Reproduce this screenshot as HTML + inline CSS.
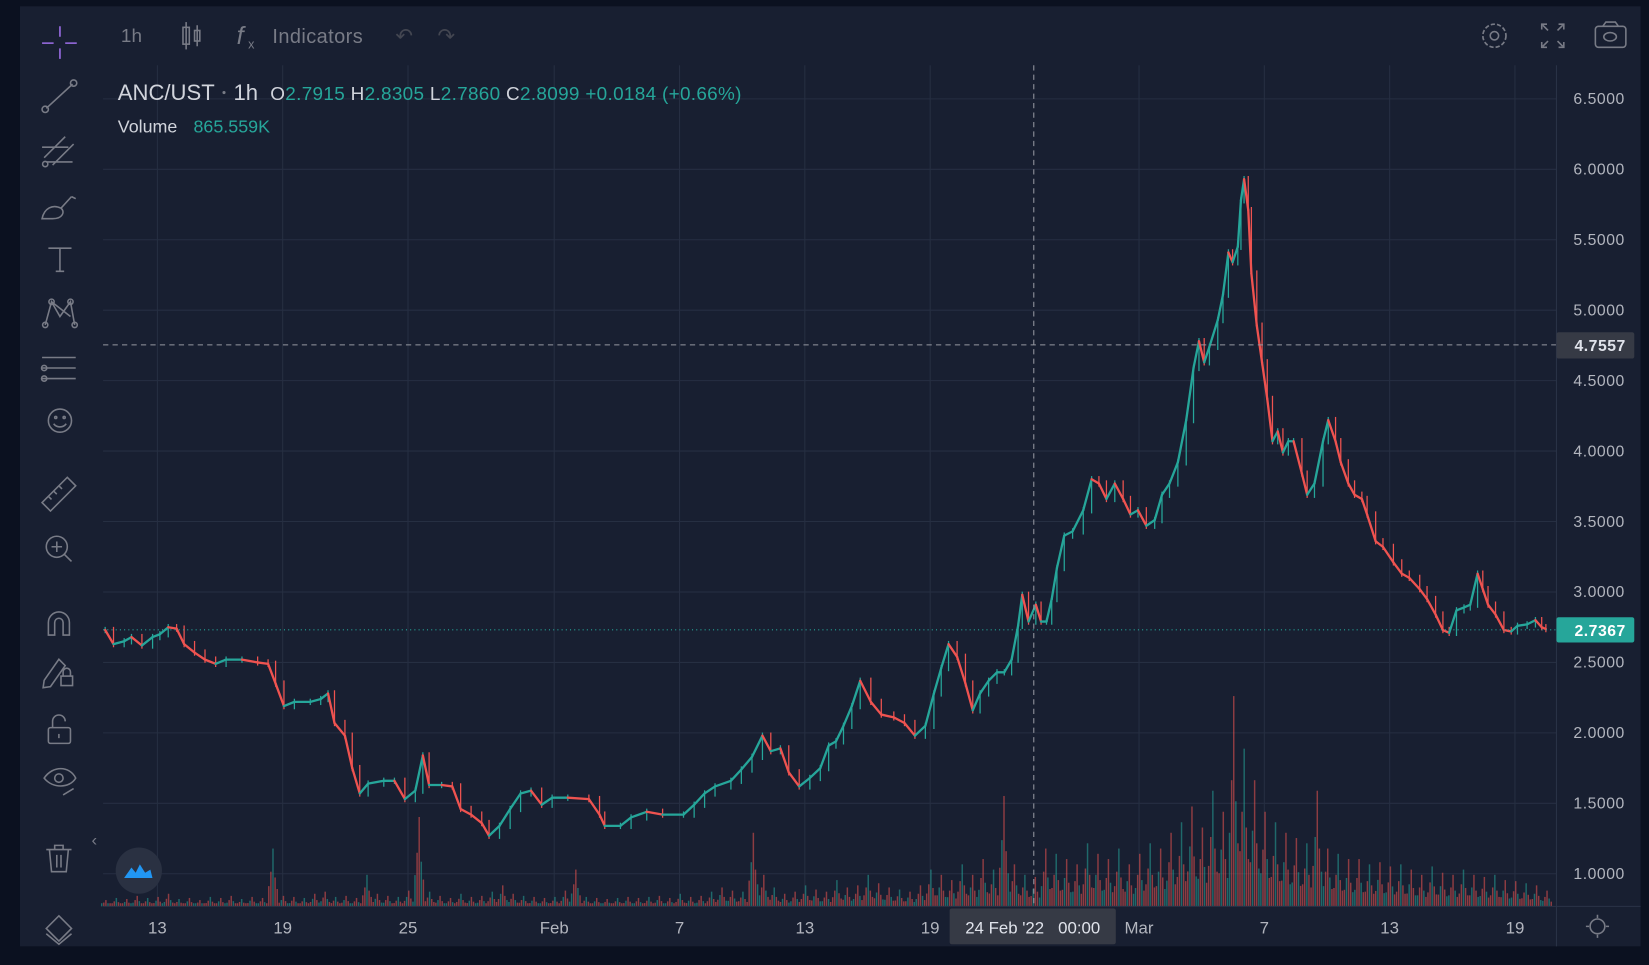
<!DOCTYPE html>
<html><head><meta charset="utf-8">
<style>
html,body{margin:0;padding:0;width:1649px;height:960px;overflow:hidden;background:#0b1120;}
#wrap{position:absolute;left:0;top:0;width:1568px;height:913px;transform-origin:0 0;transform:scale(1.05166,1.05148);font-family:"Liberation Sans",sans-serif;}
svg text{font-family:"Liberation Sans",sans-serif;}
</style></head><body>
<div id="wrap">
<svg id="svg" width="1568" height="913" xmlns="http://www.w3.org/2000/svg">
<rect x="19" y="6" width="1541" height="894" fill="#181f31"/>
<g id="grid"></g>
<g id="vol"></g>
<g id="candles"></g>
<line x1="98" y1="599" x2="1480" y2="599" stroke="#26a69a" stroke-dasharray="1,3"/>
<line x1="98" y1="328" x2="1480" y2="328" stroke="#9598a1" stroke-dasharray="5,4"/>
<line x1="983" y1="62" x2="983" y2="862" stroke="#9598a1" stroke-dasharray="5,4"/>
<line x1="1480" y1="62" x2="1480" y2="900" stroke="#2a3347"/>
<line x1="98" y1="862" x2="1560" y2="862" stroke="#2a3347"/>
<g id="yticks"></g>
<g id="xticks"></g>
<rect x="1480" y="316" width="74" height="25" rx="2" fill="#363a45"/>
<text x="1546" y="334" fill="#e0e3eb" font-size="15" font-weight="bold" text-anchor="end" letter-spacing="0.5">4.7557</text>
<rect x="1480" y="587" width="74" height="24" rx="2" fill="#26a69a"/>
<text x="1546" y="605" fill="#ffffff" font-size="15" font-weight="bold" text-anchor="end" letter-spacing="0.5">2.7367</text>
<rect x="903" y="864" width="158" height="34" rx="2" fill="#363a45"/>
<text x="982" y="888" fill="#e0e3eb" font-size="16" text-anchor="middle">24 Feb '22 &#160;&#160;00:00</text>

<text x="115" y="40" fill="#787b86" font-size="18">1h</text>
<g stroke="#787b86" fill="none" stroke-width="1.5"><rect x="174" y="26" width="6" height="16"/><line x1="177" y1="21" x2="177" y2="47"/><rect x="185" y="29" width="5" height="10"/><line x1="187.5" y1="24" x2="187.5" y2="44"/></g>
<text x="225" y="42" fill="#787b86" font-size="24" font-style="italic" font-family="Liberation Serif">f</text>
<text x="236" y="46" fill="#787b86" font-size="12">x</text>
<text x="259" y="41" fill="#787b86" font-size="19" letter-spacing="0.4">Indicators</text>
<text x="376" y="41" fill="#434651" font-size="20">↶</text>
<text x="416" y="41" fill="#434651" font-size="20">↷</text>
<g><circle cx="1421" cy="34" r="11" fill="none" stroke="#787b86" stroke-width="1.6" stroke-dasharray="4,2"/><circle cx="1421" cy="34" r="4" fill="none" stroke="#787b86" stroke-width="1.5"/></g>
<g stroke="#787b86" stroke-width="1.5" fill="none"><path d="M1466 28v-5h5M1482 23h5v5M1487 40v5h-5M1471 45h-5v-5"/><path d="M1467 24l5 5M1486 24l-5 5M1486 44l-5-5M1467 44l5-5"/></g>
<g stroke="#787b86" stroke-width="1.5" fill="none"><rect x="1517" y="25" width="29" height="20" rx="3"/><path d="M1524 25l3-4h9l3 4"/><ellipse cx="1531" cy="35" rx="6" ry="4"/></g>

<text x="112" y="95" fill="#d1d4dc" font-size="21">ANC/UST</text>
<circle cx="213" cy="88" r="1.5" fill="#787b86"/>
<text x="222" y="95" fill="#d1d4dc" font-size="21">1h</text>
<text x="257" y="95" font-size="18" letter-spacing="0.3"><tspan fill="#d1d4dc">O</tspan><tspan fill="#26a69a">2.7915 </tspan><tspan fill="#d1d4dc">H</tspan><tspan fill="#26a69a">2.8305 </tspan><tspan fill="#d1d4dc">L</tspan><tspan fill="#26a69a">2.7860 </tspan><tspan fill="#d1d4dc">C</tspan><tspan fill="#26a69a">2.8099 +0.0184 (+0.66%)</tspan></text>
<text x="112" y="126" fill="#d1d4dc" font-size="17">Volume</text>
<text x="184" y="126" fill="#26a69a" font-size="17">865.559K</text>

<g stroke="#787b86" stroke-width="1.5" fill="none">
<g stroke="#9c6ee8"><path d="M57 25v10M57 46v10M40 41h11M62 41h11"/></g>
<g><path d="M44 103L69 80"/><circle cx="43" cy="104" r="3"/><circle cx="70" cy="79" r="3"/></g>
<g><path d="M42 150l20-20M50 157l20-20M40 140h25M44 154h25"/><circle cx="43" cy="156" r="2.5"/></g>
<g><path d="M40 208c2-10 10-14 18-10 4 3 2 10-8 10zM58 198l10-11"/><path d="M68 187l4 2"/></g>
<g><path d="M46 236h22M57 236v22M53 258h8"/></g>
<g><path d="M43 309l6-22 8 14 10-14 4 22M49 287l18 14"/><circle cx="43" cy="309" r="2.5"/><circle cx="49" cy="287" r="2.5"/><circle cx="67" cy="287" r="2.5"/><circle cx="71" cy="309" r="2.5"/></g>
<g><path d="M40 340h32M40 350h32M40 360h32"/><circle cx="42" cy="350" r="2.5"/><circle cx="42" cy="360" r="2.5"/></g>
<g><circle cx="57" cy="400" r="11"/><circle cx="53" cy="397" r="1"/><circle cx="61" cy="397" r="1"/><path d="M51 403c3 4 9 4 12 0"/></g>
<g><path d="M40 478l24-24 8 8-24 24z"/><path d="M46 472l3 3M51 467l3 3M56 462l3 3"/></g>
<g><circle cx="54" cy="520" r="10"/><path d="M61 527l7 7M49 520h10M54 515v10"/></g>
<g><path d="M46 604v-12a10 10 0 0 1 20 0v12h-6v-12a4 4 0 0 0-8 0v12z"/></g>
<g><path d="M42 647l14-20 6 6-14 20-7 1z"/><rect x="58" y="643" width="11" height="9"/><path d="M60 643v-4a3.5 3.5 0 0 1 7 0v4"/></g>
<g><rect x="46" y="692" width="21" height="15" rx="2"/><path d="M50 692v-6a6 6 0 0 1 12 0"/><path d="M56 698v4"/></g>
<g><path d="M42 740c8-12 24-12 30 0-6 10-22 10-30 0z"/><circle cx="56" cy="740" r="4"/><path d="M60 756l10-6"/></g>
<g><path d="M44 808h24M52 808v-4h8v4M47 808l2 21h14l2-21M54 813v12M58 813v12"/></g>
<g><path d="M56 871l12 12-12 12-12-12z"/><path d="M44 888l12 10 12-10"/></g>
</g>
<text x="87" y="804" fill="#787b86" font-size="16">‹</text>
<g><circle cx="132" cy="828" r="22" fill="#2a3142"/><path d="M118 835l7-10 4 5 4-8 5 8 5-3 2 8z" fill="#2196f3"/></g>
<g stroke="#787b86" stroke-width="1.5" fill="none"><circle cx="1519" cy="881" r="7"/><path d="M1519 870v3M1519 889v3M1508 881h3M1527 881h3"/></g>
</svg>
</div>
<script>
// ---- data ----
const dayTicks = ["13","19","25","Feb","7","13","19","Mar","7","13","19"];
const dayTickOffsets = [2.5,8.5,14.5,21.5,27.5,33.5,39.5,49.5,55.5,61.5,67.5]; // days since Jan 10 12:00
const priceTicks = [6.5,6.0,5.5,5.0,4.5,4.0,3.5,3.0,2.5,2.0,1.5,1.0];
const times = [0,.40,.91,1.26,1.76,2.27,2.62,3.02,3.42,3.78,4.28,4.78,5.29,5.79,6.55,7.30,7.80,8.16,8.56,9.06,9.82,10.32,10.67,10.98,11.48,11.83,12.19,12.59,13.34,13.85,14.35,14.85,15.21,15.51,16.11,16.62,17.02,17.52,18.03,18.38,18.88,19.39,19.89,20.39,20.90,21.40,22.15,23.16,23.67,23.92,24.67,25.18,25.93,26.69,27.69,28.20,28.70,29.20,29.96,30.46,30.97,31.47,31.87,32.33,32.73,33.23,33.74,34.24,34.64,34.99,35.35,35.75,36.15,36.66,37.16,37.76,38.27,38.77,39.27,39.68,40.03,40.38,40.79,41.19,41.54,41.89,42.30,42.70,43.05,43.40,43.71,43.91,44.21,44.56,44.81,45.07,45.32,45.57,45.92,46.32,46.83,47.23,47.58,47.94,48.34,48.74,49.09,49.45,49.85,50.25,50.60,50.96,51.36,51.76,52.11,52.37,52.62,52.87,53.27,53.52,53.78,53.98,54.23,54.38,54.53,54.73,54.88,55.14,55.39,55.64,55.89,56.14,56.39,56.65,56.90,57.30,57.55,57.90,58.31,58.56,58.91,59.16,59.52,59.82,60.17,60.42,60.83,61.18,61.68,62.08,62.44,62.94,63.29,63.70,64.05,64.35,64.70,65.06,65.36,65.71,65.96,66.21,66.57,66.97,67.32,67.62,68.08,68.48,68.78,68.98];
const closes = [2.73,2.63,2.65,2.68,2.62,2.68,2.70,2.75,2.74,2.63,2.57,2.52,2.49,2.52,2.52,2.50,2.49,2.35,2.19,2.22,2.22,2.24,2.28,2.07,1.98,1.75,1.57,1.64,1.66,1.66,1.53,1.59,1.84,1.63,1.63,1.62,1.46,1.42,1.36,1.27,1.34,1.46,1.57,1.59,1.49,1.54,1.54,1.53,1.42,1.34,1.34,1.40,1.44,1.42,1.42,1.49,1.57,1.62,1.66,1.74,1.83,1.98,1.87,1.89,1.72,1.62,1.68,1.75,1.91,1.94,2.05,2.19,2.37,2.22,2.13,2.11,2.07,1.98,2.05,2.28,2.46,2.63,2.54,2.35,2.16,2.28,2.37,2.43,2.43,2.52,2.76,2.98,2.79,2.91,2.79,2.79,2.95,3.17,3.40,3.43,3.58,3.80,3.77,3.66,3.77,3.66,3.55,3.58,3.47,3.51,3.69,3.77,3.92,4.22,4.59,4.78,4.63,4.74,4.93,5.11,5.41,5.34,5.45,5.78,5.93,5.71,5.26,4.89,4.63,4.37,4.07,4.14,3.99,4.07,4.07,3.84,3.69,3.77,4.07,4.22,4.07,3.92,3.77,3.69,3.66,3.55,3.36,3.32,3.21,3.13,3.10,3.02,2.95,2.84,2.73,2.71,2.87,2.89,2.91,3.13,3.02,2.91,2.84,2.73,2.72,2.76,2.77,2.80,2.75,2.7367];
const volumes = [6,8,7,10,8,9,12,7,8,6,9,8,10,7,9,8,55,10,9,8,12,14,9,10,8,30,12,10,9,15,85,14,10,8,12,9,10,14,20,12,10,9,8,9,15,35,9,8,7,8,9,8,9,10,8,12,9,10,14,18,15,14,70,30,18,12,14,20,16,14,25,18,20,30,22,18,16,14,20,35,30,25,40,30,45,35,105,40,30,28,55,50,45,40,60,50,45,55,40,50,60,55,70,80,95,75,110,90,200,150,120,90,80,70,65,60,110,55,50,45,45,40,42,38,40,35,30,38,32,30,35,30,28,30,25,24,22,20,15];

// ---- scales ----
const NS='http://www.w3.org/2000/svg';
const xDay = d => 100 + d*19.86;
const yPrice = p => 94 + (6.5-p)*134;
const yVol = v => 862 - v;
const UP='#26a69a', DN='#ef5350';
function mk(tag, attrs, parent){const e=document.createElementNS(NS,tag);for(const k in attrs)e.setAttribute(k,attrs[k]);parent.appendChild(e);return e;}

const grid=document.getElementById('grid');
priceTicks.forEach(p=>{
  const l=mk('line',{x1:98,x2:1480,y1:yPrice(p),y2:yPrice(p),stroke:'#262f42'},grid);
  
  
  const t=mk('text',{x:1545,y:yPrice(p)+5,fill:'#b2b5be','font-size':15,'text-anchor':'end','letter-spacing':'0.5'},document.getElementById('yticks'));
  t.textContent=p.toFixed(4);
  
  
});
dayTicks.forEach((lab,i)=>{
  const x=xDay(dayTickOffsets[i]);
  const l=mk('line',{x1:x,x2:x,y1:62,y2:862,stroke:'#262f42'},grid);
  
  
  const t=mk('text',{x:x,y:888,fill:'#b2b5be','font-size':16,'text-anchor':'middle'},document.getElementById('xticks'));
  t.textContent=lab;
  
  
});

const vg=document.getElementById('vol');
volumes.forEach((v,i)=>{
  const x=xDay(i*0.5);
  const offs=[-4,-2,0,2,4];
  const fr=[0.35,0.6,1,0.5,0.3];
  offs.forEach((o,k)=>{
    const h=Math.max(3,v*fr[k]);
    const c=((i+k)%3===0)?UP:DN;
    const r=mk('rect',{x:x+o,y:yVol(h),width:1.4,height:h,fill:c,opacity:0.55},vg);
    
    
  });
});

const cg=document.getElementById('candles');
for(let i=0;i<closes.length;i++){
  const o=i?closes[i-1]:closes[0];
  const c=closes[i];
  const x0=i?xDay(times[i-1]):xDay(times[0]);
  const x1=xDay(times[i]);
  const col=c>=o?UP:DN;
  const seg=mk('line',{x1:x0,y1:yPrice(o),x2:x1,y2:yPrice(c),stroke:col,'stroke-width':2.2,'stroke-linecap':'round'},cg);
  
  
  const top=yPrice(Math.max(o,c)), bot=yPrice(Math.min(o,c));
  const w=mk('line',{x1:x1,x2:x1,y1:top-3,y2:bot+3,stroke:col,'stroke-width':1.2},cg);
  
  
}
</script>
</body></html>
